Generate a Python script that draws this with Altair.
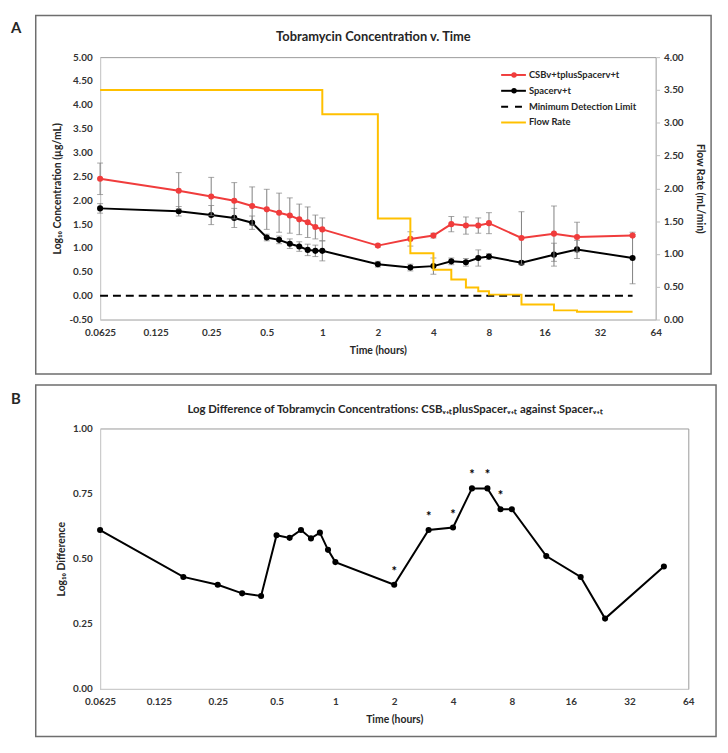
import altair as alt
import pandas as pd

# ---------------- data ----------------
TIME_H = [0.0625, 0.1667, 0.25, 0.3333, 0.4167, 0.5, 0.5833, 0.6667, 0.75, 0.8333,
          0.9167, 1, 2, 3, 4, 5, 6, 7, 8, 12, 18, 24, 48]
CSB_MEAN = [2.45, 2.20, 2.08, 1.99, 1.88, 1.81, 1.74, 1.68, 1.60, 1.54,
            1.44, 1.39, 1.05, 1.19, 1.26, 1.50, 1.47, 1.47, 1.52, 1.21, 1.30, 1.23, 1.26]
CSB_SD = [0.33, 0.38, 0.40, 0.38, 0.40, 0.42, 0.41, 0.37, 0.32, 0.32,
          0.25, 0.24, 0.03, 0.15, 0.05, 0.16, 0.18, 0.16, 0.22, 0.55, 0.58, 0.31, 0.02]
SPACER_MEAN = [1.83, 1.77, 1.69, 1.63, 1.53, 1.22, 1.17, 1.09, 1.03, 0.96,
               0.94, 0.94, 0.66, 0.59, 0.62, 0.72, 0.70, 0.79, 0.82, 0.69, 0.86, 0.97, 0.79]
SPACER_SD = [0.10, 0.10, 0.20, 0.20, 0.14, 0.07, 0.08, 0.10, 0.10, 0.12,
             0.12, 0.21, 0.06, 0.07, 0.17, 0.07, 0.08, 0.17, 0.06, 0.04, 0.24, 0.19, 0.54]
FLOW_TIME_H = [0.0625, 1, 2, 3, 4, 5, 6, 7, 8, 12, 18, 24, 48]
FLOW_RATE = [3.50, 3.13, 1.54, 1.01, 0.76, 0.61, 0.49, 0.43, 0.38, 0.23, 0.14, 0.12, 0.12]
DETECTION_LIMIT = 0.0
LOG_DIFF = [0.61, 0.43, 0.40, 0.367, 0.357, 0.59, 0.58, 0.61, 0.578, 0.60,
            0.534, 0.487, 0.40, 0.61, 0.62, 0.77, 0.77, 0.69, 0.69, 0.51, 0.43, 0.27, 0.47]
SIGNIFICANT = [False] * 12 + [True, True, True, True, True, True, False, False, False, False, False]
X_TICKS = [0.0625, 0.125, 0.25, 0.5, 1, 2, 4, 8, 16, 32, 64]
CONC_TICKS = [-0.5, 0, 0.5, 1, 1.5, 2, 2.5, 3, 3.5, 4, 4.5, 5]
FLOW_TICKS = [0, 0.5, 1, 1.5, 2, 2.5, 3, 3.5, 4]
DIFF_TICKS = [0, 0.25, 0.5, 0.75, 1]
SERIES_NAMES = ["CSBv+tplusSpacerv+t", "Spacerv+t", "Minimum Detection Limit", "Flow Rate"]

TITLE_A = "Tobramycin Concentration v. Time"
TITLE_B = "Log Difference of Tobramycin Concentrations: CSB\u1d65\u208a\u209cplusSpacer\u1d65\u208a\u209c against Spacer\u1d65\u208a\u209c"
X_TITLE = "Time (hours)"
Y_CONC_TITLE = "Log\u2081\u2080 Concentration (\u00b5g/mL)"
Y_FLOW_TITLE = "Flow Rate (mL/min)"
Y_DIFF_TITLE = "Log\u2081\u2080 Difference"

# ---------------- styles ----------------
FONT = "Lato"
RED = "#f03c3c"
BLACK = "#000000"
ORANGE = "#ffc000"
ERR = "#808080"
TEXT = "#262626"
SERIES_COLORS = [RED, BLACK, BLACK, ORANGE]
W_A, H_A = 561, 265
W_B, H_B = 594, 263
LABEL_2F = "replace(format(datum.value, '.2f'), '\u2212', '-')"

x_scale = alt.Scale(type="log", base=2, domain=[0.0625, 64], nice=False)


def x_enc(field):
    return alt.X(f"{field}:Q", scale=x_scale,
                 axis=alt.Axis(values=X_TICKS, labelExpr="'' + datum.value", labelPadding=8,
                               titlePadding=8, labelFlush=False, labelOverlap=False),
                 title=X_TITLE)


def y_conc(field):
    return alt.Y(f"{field}:Q", scale=alt.Scale(domain=[-0.5, 5], nice=False, zero=False),
                 axis=alt.Axis(values=CONC_TICKS, labelExpr=LABEL_2F, orient="left", labelPadding=8,
                               titlePadding=6),
                 title=Y_CONC_TITLE)


def y_diff(field):
    return alt.Y(f"{field}:Q", scale=alt.Scale(domain=[0, 1], nice=False, zero=False),
                 axis=alt.Axis(values=DIFF_TICKS, labelExpr=LABEL_2F, orient="left", labelPadding=8,
                               titlePadding=6),
                 title=Y_DIFF_TITLE)


def one_row(**kw):
    return pd.DataFrame({k: [v] for k, v in kw.items()})


def frame(x0, x1, y0, y1):
    return alt.Chart(one_row(s="frame")).mark_rect(
        fill="white", fillOpacity=0, stroke="#6e6e6e", strokeWidth=1.5
    ).encode(x=alt.value(x0), x2=alt.value(x1), y=alt.value(y0), y2=alt.value(y1))


def text_at(s, x, y, size, align="center"):
    return alt.Chart(one_row(s=s)).mark_text(
        align=align, baseline="middle", font=FONT, fontSize=size, fontWeight="bold", color=TEXT
    ).encode(x=alt.value(x), y=alt.value(y), text="s:N")


# ---------------- panel A ----------------
conc = pd.DataFrame({"t": TIME_H, "csb": CSB_MEAN, "csb_sd": CSB_SD,
                     "sp": SPACER_MEAN, "sp_sd": SPACER_SD})


def series_layers(mean, sd, color):
    base = alt.Chart(conc).transform_calculate(
        lo=f"datum.{mean} - datum.{sd}", hi=f"datum.{mean} + datum.{sd}")
    err = base.mark_rule(color=ERR, strokeWidth=1).encode(
        x=x_enc("t"), y=y_conc("lo"), y2=alt.Y2("hi:Q"))
    cap_lo = base.mark_tick(color=ERR, size=6, thickness=1, orient="horizontal").encode(
        x=x_enc("t"), y=y_conc("lo"))
    cap_hi = base.mark_tick(color=ERR, size=6, thickness=1, orient="horizontal").encode(
        x=x_enc("t"), y=y_conc("hi"))
    line = base.mark_line(color=color, strokeWidth=2).encode(x=x_enc("t"), y=y_conc(mean))
    pts = base.mark_point(filled=True, color=color, size=38, opacity=1).encode(
        x=x_enc("t"), y=y_conc(mean))
    return [err, cap_lo, cap_hi, line, pts]


det = alt.Chart(one_row(t0=TIME_H[0], t1=TIME_H[-1], lim=DETECTION_LIMIT)).mark_rule(
    color=BLACK, strokeDash=[8, 5], strokeWidth=2
).encode(x=x_enc("t0"), x2=alt.X2("t1:Q"), y=y_conc("lim"))

conc_group = alt.layer(det, *series_layers("sp", "sp_sd", BLACK), *series_layers("csb", "csb_sd", RED))

flow_df = pd.DataFrame({"t": FLOW_TIME_H, "rate": FLOW_RATE})
flow = alt.Chart(flow_df).mark_line(interpolate="step-after", color=ORANGE, strokeWidth=2).encode(
    x=x_enc("t"),
    y=alt.Y("rate:Q", scale=alt.Scale(domain=[0, 4], nice=False, zero=False),
            axis=alt.Axis(values=FLOW_TICKS, labelExpr=LABEL_2F, orient="right", ticks=True, tickSize=4,
                          tickColor="#bfbfbf", labelPadding=4, titlePadding=12, domain=False),
            title=Y_FLOW_TITLE))

# legend
leg = pd.DataFrame({"name": SERIES_NAMES, "i": list(range(len(SERIES_NAMES)))})
leg_base = alt.Chart(leg).transform_calculate(ly="18 + datum.i * 16")
leg_y = alt.Y("ly:Q", scale=None, axis=None)
leg_color = alt.Color("name:N", scale=alt.Scale(domain=SERIES_NAMES, range=SERIES_COLORS), legend=None)
leg_solid = leg_base.transform_filter("datum.i != 2").mark_rule(strokeWidth=2).encode(
    x=alt.value(405), x2=alt.value(430), y=leg_y, color=leg_color)
leg_dash = leg_base.transform_filter("datum.i == 2").mark_rule(
    strokeWidth=2, strokeDash=[7, 7], color=BLACK).encode(x=alt.value(405), x2=alt.value(430), y=leg_y)
leg_dots = leg_base.transform_filter("datum.i < 2").mark_point(filled=True, size=30, opacity=1).encode(
    x=alt.value(418), y=leg_y, color=leg_color)
leg_text = leg_base.mark_text(align="left", baseline="middle", font=FONT, fontSize=9.5,
                              fontWeight="bold", color=TEXT).encode(
    x=alt.value(433), y=leg_y, text="name:N")

panel_a = alt.layer(
    frame(-65, W_A + 56, -42, H_A + 55),
    conc_group, flow,
    leg_solid, leg_dash, leg_dots, leg_text,
    text_at("A", -90, -29, 15, align="left"),
    text_at(TITLE_A, 276, -20, 13),
).resolve_scale(y="independent").properties(width=W_A, height=H_A)

# ---------------- panel B ----------------
diff_df = pd.DataFrame({"t": TIME_H, "d": LOG_DIFF, "sig": SIGNIFICANT})
line_b = alt.Chart(diff_df).mark_line(color=BLACK, strokeWidth=2).encode(x=x_enc("t"), y=y_diff("d"))
pts_b = alt.Chart(diff_df).mark_point(filled=True, color=BLACK, size=38, opacity=1).encode(
    x=x_enc("t"), y=y_diff("d"))
stars = alt.Chart(diff_df).transform_filter("datum.sig").mark_text(
    text="*", dy=-13, font=FONT, fontSize=13, fontWeight="bold", color=BLACK, baseline="middle"
).encode(x=x_enc("t"), y=y_diff("d"))

panel_b = alt.layer(
    frame(-65, W_B + 28, -44, H_B + 48),
    line_b, pts_b, stars,
    text_at("B", -90, -30, 15, align="left"),
    text_at(TITLE_B, 298, -19, 11.5),
).properties(width=W_B, height=H_B)

chart = alt.vconcat(panel_a, panel_b, spacing=7).properties(
    padding={"left": 2, "top": 2, "right": 2, "bottom": 2}
).configure_view(stroke="#9a9a9a", strokeWidth=1).configure_axis(
    labelFont=FONT, labelFontSize=10, labelFontWeight="bold", labelColor="#333333",
    titleFont=FONT, titleFontSize=10.5, titleFontWeight="bold", titleColor=TEXT,
    grid=False, ticks=False, domainColor="#d0d0d0", domainWidth=1
)

chart.save("out.html", embed_options={"renderer": "svg", "actions": False})
